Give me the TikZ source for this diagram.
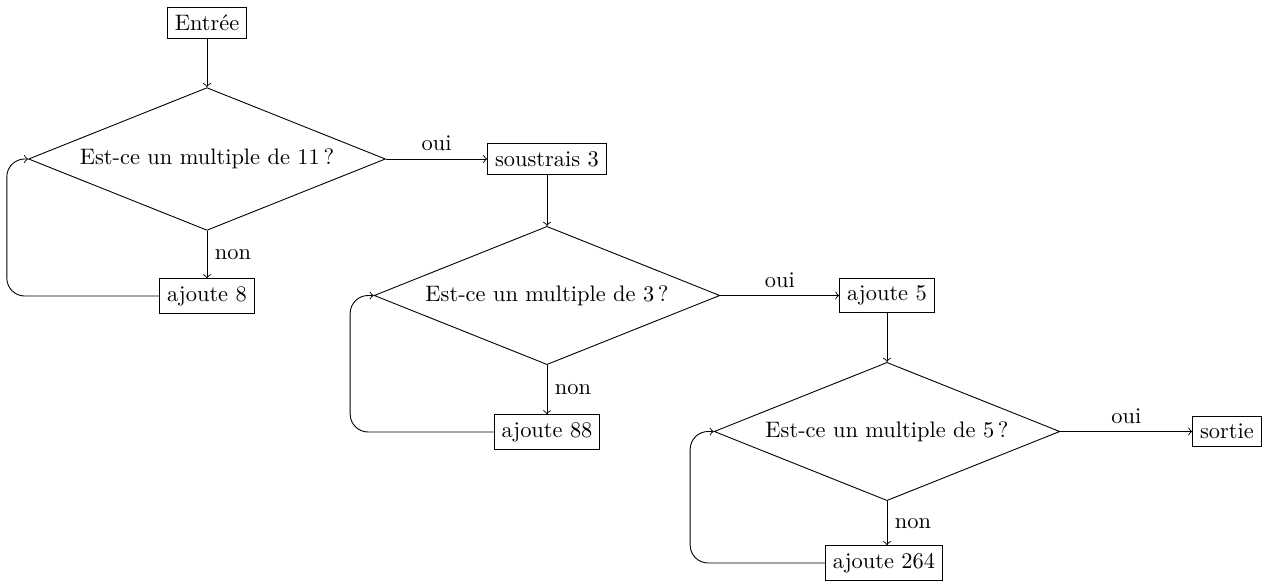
\documentclass[tikz,border=0pt]{standalone}
\usetikzlibrary{shapes.geometric}
\begin{document}
\begin{tikzpicture}[x=0.4464pt,y=-0.4464pt,
  box/.style={draw,rectangle},
  dec/.style={draw,diamond,aspect=2.5},
  arr/.style={->},
  back/.style={->,rounded corners=8pt}]
\useasboundingbox (0,0) rectangle (1263,582);
\node[box] (in) at (207,23) {Entrée};
\node[dec] (d1) at (207,159) {Est-ce un multiple de 11\,?};
\node[box] (a8) at (207,296) {ajoute 8};
\node[box] (s3) at (547,159) {soustrais 3};
\node[dec] (d2) at (547,295.5) {Est-ce un multiple de 3\,?};
\node[box] (a88) at (547,432) {ajoute 88};
\node[box] (a5) at (887,295.5) {ajoute 5};
\node[dec] (d3) at (887,431.5) {Est-ce un multiple de 5\,?};
\node[box] (a264) at (884,563) {ajoute 264};
\node[box] (out) at (1227,431.5) {sortie};

\draw[arr] (in) -- (d1.north);
\draw[arr] (d1.east) -- node[above] {oui} (s3.west);
\draw[arr] (d1.south) -- node[right] {non} (a8.north);
\draw[back] (a8.west) -| ([xshift=-9.5pt]d1.west) -- (d1.west);

\draw[arr] (s3) -- (d2.north);
\draw[arr] (d2.east) -- node[above] {oui} (a5.west);
\draw[arr] (d2.south) -- node[right] {non} (a88.north);
\draw[back] (a88.west) -| ([xshift=-10.5pt]d2.west) -- (d2.west);

\draw[arr] (a5) -- (d3.north);
\draw[arr] (d3.east) -- node[above] {oui} (out.west);
\draw[arr] (d3.south) -- node[right] {non} (d3.south |- a264.north);
\draw[back] (a264.west) -| ([xshift=-10.5pt]d3.west) -- (d3.west);
\end{tikzpicture}
\end{document}
